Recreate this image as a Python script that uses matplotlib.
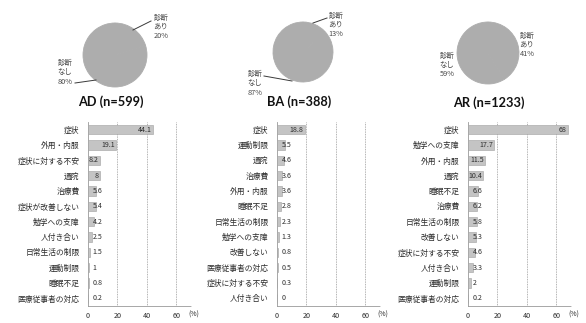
import matplotlib
matplotlib.use("Agg")
import matplotlib.pyplot as plt
from matplotlib.lines import Line2D

plt.rcParams['font.family'] = ['Noto Sans CJK JP', 'DejaVu Sans']

# データ
titles = ['AD (n=599)', 'BA (n=388)', 'AR (n=1233)']
pie_yes = [20, 13, 41]
pie_no = [80, 87, 59]

ad_items = ['症状', '外用・内服', '症状に対する不安', '通院', '治療費', '症状が改善しない',
            '勉学への支障', '人付き合い', '日常生活の制限', '運動制限', '睡眠不足', '医療従事者の対応']
ad_vals = [44.1, 19.1, 8.2, 8.0, 5.6, 5.4, 4.2, 2.5, 1.5, 1, 0.8, 0.2]

ba_items = ['症状', '運動制限', '通院', '治療費', '外用・内服', '睡眠不足',
            '日常生活の制限', '勉学への支障', '改善しない', '医療従事者の対応', '症状に対する不安', '人付き合い']
ba_vals = [18.8, 5.5, 4.6, 3.6, 3.6, 2.8, 2.3, 1.3, 0.8, 0.5, 0.3, 0]

ar_items = ['症状', '勉学への支障', '外用・内服', '通院', '睡眠不足', '治療費',
            '日常生活の制限', '改善しない', '症状に対する不安', '人付き合い', '運動制限', '医療従事者の対応']
ar_vals = [68, 17.7, 11.5, 10.4, 6.6, 6.2, 5.8, 5.3, 4.6, 3.3, 2, 0.2]

items_all = [ad_items, ba_items, ar_items]
vals_all = [ad_vals, ba_vals, ar_vals]

W, H = 586, 323
fig = plt.figure(figsize=(W / 100, H / 100), dpi=100)
fig.patch.set_facecolor('white')

def px_axes(x0, y0, w, h):
    # ピクセル指定(左上原点)で axes を作る
    return fig.add_axes([x0 / W, 1 - (y0 + h) / H, w / W, h / H])

def fx(x):
    return x / W

def fy(y):
    return 1 - y / H

gray_pie = '#adadad'
bar_col = '#c4c4c4'
txt_col = '#2b2b2b'

# 円グラフ: 中心と半径(px)
pie_pos = [(115, 55, 32), (303, 52, 30), (488, 53, 31)]
# ラベル中心(px) と 引き出し線
yes_lab = [(161, 27), (336, 25), (527, 45)]
no_lab = [(65, 72), (255, 83), (447, 65)]
yes_line = [((133, 30), (151, 21)), ((313, 23), (327, 18)), None]
no_line = [((75, 83), (96, 80)), ((264, 76), (292, 81)), None]

for i in range(3):
    cx, cy, r = pie_pos[i]
    ax = px_axes(cx - r, cy - r, 2 * r, 2 * r)
    ax.pie([pie_yes[i], pie_no[i]], colors=[gray_pie, gray_pie],
           startangle=90, counterclock=False, radius=1,
           wedgeprops=dict(linewidth=0.6, edgecolor=gray_pie))
    ax.set_xlim(-1, 1)
    ax.set_ylim(-1, 1)
    ax.axis('off')
    for lab, (lx, ly) in [('診断\nあり\n%d%%' % pie_yes[i], yes_lab[i]),
                          ('診断\nなし\n%d%%' % pie_no[i], no_lab[i])]:
        fig.text(fx(lx), fy(ly), lab, fontsize=5.3, color='#4a4a4a', ha='center', va='center',
                 linespacing=1.25)
    for ln in [yes_line[i], no_line[i]]:
        if ln is not None:
            (x1, y1), (x2, y2) = ln
            fig.add_artist(Line2D([fx(x1), fx(x2)], [fy(y1), fy(y2)], color='#3a3a3a', lw=0.7))

title_pos = [(111, 102), (299, 102), (489, 103)]
for t, (tx, ty) in zip(titles, title_pos):
    fig.text(fx(tx), fy(ty), t, fontsize=9.2, fontweight='bold', family='Lato',
             ha='center', va='center', color='#111111')

# 棒グラフ
bar_left = [88, 277, 468]
for i in range(3):
    ax = px_axes(bar_left[i], 122, 103, 184)
    items = items_all[i]
    vals = vals_all[i]
    ypos = list(range(len(items)))
    ax.barh(ypos, vals, height=0.6, color=bar_col, edgecolor='#a0a0a0', linewidth=0.4, zorder=3)
    ax.set_yticks(ypos)
    ax.set_yticklabels(items, fontsize=5.6, color=txt_col)
    ax.set_ylim(len(items) - 0.5, -0.5)
    ax.set_xlim(0, 70)
    ax.set_xticks([0, 20, 40, 60])
    ax.set_xticklabels(['0', '20', '40', '60'], fontsize=5.2, color=txt_col)
    ax.tick_params(length=0)
    ax.tick_params(axis='x', pad=4)
    ax.tick_params(axis='y', pad=6)
    for g in [20, 40, 60]:
        ax.axvline(g, color='#999999', lw=0.6, ls=(0, (1, 1)), zorder=1)
    for s in ['top', 'right']:
        ax.spines[s].set_visible(False)
    for s in ['left', 'bottom']:
        ax.spines[s].set_color('#999999')
        ax.spines[s].set_linewidth(0.6)
        ax.spines[s].set_linestyle((0, (1, 1)))
    for y, v in zip(ypos, vals):
        lab = ('%g' % v)
        if v >= 8:
            ax.text(v - 0.8, y, lab, fontsize=5.1, color=txt_col, ha='right', va='center', zorder=4)
        else:
            ax.text(3.2, y, lab, fontsize=5.1, color=txt_col, ha='left', va='center', zorder=4)
    ax.text(72, -0.045, '(%)', transform=ax.get_xaxis_transform(), fontsize=5,
            color=txt_col, ha='center', va='center')

fig.savefig('out.png', dpi=100, facecolor='white')
